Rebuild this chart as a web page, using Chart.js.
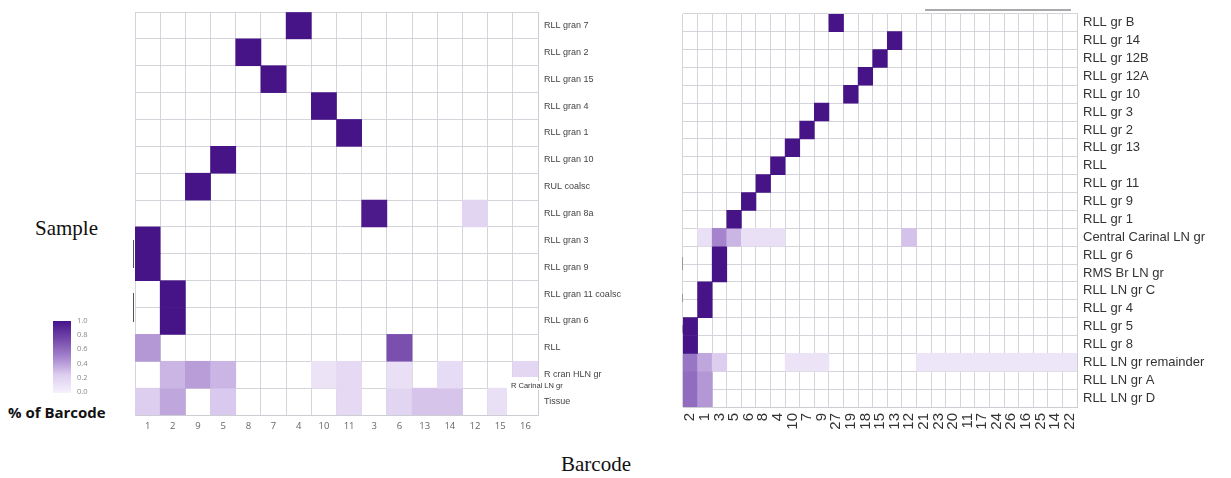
<!DOCTYPE html>
<html>
<head>
<meta charset="utf-8">
<script src="https://cdn.jsdelivr.net/npm/chart.js@4.4.1/dist/chart.umd.min.js"></script>
<style>
  body { margin: 0; background: #fff; width: 1231px; height: 478px; position: relative; overflow: hidden; }
  canvas { position: absolute; }
  .serif { position: absolute; font-family: "Liberation Serif", "DejaVu Serif", serif; font-size: 21px; color: #111; }
  #legendTitle { position: absolute; left: 8px; top: 402px; font-family: "Open Sans", sans-serif; font-weight: bold; font-size: 15px; color: #111; }
  #colorbar { position: absolute; left: 53px; top: 321px; width: 18px; height: 72px;
    background: linear-gradient(to bottom, #46148a, #7448aa, #a584cd, #ddcef0, #f6f1fc); }
  .cbTick { position: absolute; left: 77px; font-family: "Open Sans", sans-serif; font-size: 7.5px; color: #888; }
  #carinal { position: absolute; left: 507px; top: 377px; width: 31px; height: 38px; background: #fff; }
  #carinalText { position: absolute; left: 511px; top: 381px; font-family: "Liberation Sans", sans-serif; font-size: 7.5px; color: #333; background: #fff; white-space: nowrap; }
  .mark { position: absolute; width: 1px; background: #555; }
  #topRule { position: absolute; left: 925px; top: 9px; width: 146px; height: 2px; background: #aaa; }
</style>
</head>
<body>
<canvas id="leftMap" width="525" height="440" style="left:125px;top:0"></canvas>
<canvas id="rightMap" width="556" height="460" style="left:675px;top:0"></canvas>

<div class="serif" style="left:35px;top:216px">Sample</div>
<div class="serif" style="left:561px;top:452px">Barcode</div>
<div id="colorbar"></div>
<div id="legendTitle">% of Barcode</div>
<div id="carinal"></div>
<div id="carinalText">R Carinal LN gr</div>
<div id="topRule"></div>
<!-- leftover dendrogram stubs beside the row axes -->
<div class="mark" style="left:133px;top:240px;height:28px"></div>
<div class="mark" style="left:133px;top:293px;height:29px"></div>
<div class="mark" style="left:682px;top:257px;height:13px;background:#999"></div>
<div class="mark" style="left:682px;top:294px;height:8px;background:#999"></div>
<div class="mark" style="left:682px;top:325px;height:8px;background:#999"></div>

<script>
// left panel: barcodes (columns) and samples (rows)
const leftCols = ['1', '2', '9', '5', '8', '7', '4', '10', '11', '3', '6', '13', '14', '12', '15', '16'];
const leftRows = ['RLL gran 7', 'RLL gran 2', 'RLL gran 15', 'RLL gran 4', 'RLL gran 1', 'RLL gran 10',
  'RUL coalsc', 'RLL gran 8a', 'RLL gran 3', 'RLL gran 9', 'RLL gran 11 coalsc', 'RLL gran 6',
  'RLL', 'R cran HLN gr', 'Tissue'];
const leftValues = [
  [0, 0, 0, 0, 0, 0, 1, 0, 0, 0, 0, 0, 0, 0, 0, 0],
  [0, 0, 0, 0, 1, 0, 0, 0, 0, 0, 0, 0, 0, 0, 0, 0],
  [0, 0, 0, 0, 0, 1, 0, 0, 0, 0, 0, 0, 0, 0, 0, 0],
  [0, 0, 0, 0, 0, 0, 0, 1, 0, 0, 0, 0, 0, 0, 0, 0],
  [0, 0, 0, 0, 0, 0, 0, 0, 1, 0, 0, 0, 0, 0, 0, 0],
  [0, 0, 0, 1, 0, 0, 0, 0, 0, 0, 0, 0, 0, 0, 0, 0],
  [0, 0, 1, 0, 0, 0, 0, 0, 0, 0, 0, 0, 0, 0, 0, 0],
  [0, 0, 0, 0, 0, 0, 0, 0, 0, 0.97, 0, 0, 0, 0.16, 0, 0],
  [1, 0, 0, 0, 0, 0, 0, 0, 0, 0, 0, 0, 0, 0, 0, 0],
  [1, 0, 0, 0, 0, 0, 0, 0, 0, 0, 0, 0, 0, 0, 0, 0],
  [0, 1, 0, 0, 0, 0, 0, 0, 0, 0, 0, 0, 0, 0, 0, 0],
  [0, 1, 0, 0, 0, 0, 0, 0, 0, 0, 0, 0, 0, 0, 0, 0],
  [0.42, 0, 0, 0, 0, 0, 0, 0, 0, 0, 0.72, 0, 0, 0, 0, 0],
  [0, 0.3, 0.4, 0.3, 0, 0, 0, 0.08, 0.14, 0, 0.1, 0, 0.12, 0, 0, 0.15],
  [0.2, 0.36, 0, 0.22, 0, 0, 0, 0, 0.14, 0, 0.16, 0.24, 0.24, 0, 0.1, 0]
];

// right panel
const rightCols = ['2', '1', '3', '5', '6', '8', '4', '10', '7', '9', '27', '19', '18', '15', '13',
  '12', '21', '23', '20', '11', '17', '24', '26', '16', '25', '14', '22'];
const rightRows = ['RLL gr B', 'RLL gr 14', 'RLL gr 12B', 'RLL gr 12A', 'RLL gr 10', 'RLL gr 3',
  'RLL gr 2', 'RLL gr 13', 'RLL', 'RLL gr 11', 'RLL gr 9', 'RLL gr 1', 'Central Carinal LN gr',
  'RLL gr 6', 'RMS Br LN gr', 'RLL LN gr C', 'RLL gr 4', 'RLL gr 5', 'RLL gr 8',
  'RLL LN gr remainder', 'RLL LN gr A', 'RLL LN gr D'];
const rightValues = [
  [0, 0, 0, 0, 0, 0, 0, 0, 0, 0, 1, 0, 0, 0, 0, 0, 0, 0, 0, 0, 0, 0, 0, 0, 0, 0, 0],
  [0, 0, 0, 0, 0, 0, 0, 0, 0, 0, 0, 0, 0, 0, 1, 0, 0, 0, 0, 0, 0, 0, 0, 0, 0, 0, 0],
  [0, 0, 0, 0, 0, 0, 0, 0, 0, 0, 0, 0, 0, 1, 0, 0, 0, 0, 0, 0, 0, 0, 0, 0, 0, 0, 0],
  [0, 0, 0, 0, 0, 0, 0, 0, 0, 0, 0, 0, 1, 0, 0, 0, 0, 0, 0, 0, 0, 0, 0, 0, 0, 0, 0],
  [0, 0, 0, 0, 0, 0, 0, 0, 0, 0, 0, 1, 0, 0, 0, 0, 0, 0, 0, 0, 0, 0, 0, 0, 0, 0, 0],
  [0, 0, 0, 0, 0, 0, 0, 0, 0, 1, 0, 0, 0, 0, 0, 0, 0, 0, 0, 0, 0, 0, 0, 0, 0, 0, 0],
  [0, 0, 0, 0, 0, 0, 0, 0, 1, 0, 0, 0, 0, 0, 0, 0, 0, 0, 0, 0, 0, 0, 0, 0, 0, 0, 0],
  [0, 0, 0, 0, 0, 0, 0, 1, 0, 0, 0, 0, 0, 0, 0, 0, 0, 0, 0, 0, 0, 0, 0, 0, 0, 0, 0],
  [0, 0, 0, 0, 0, 0, 1, 0, 0, 0, 0, 0, 0, 0, 0, 0, 0, 0, 0, 0, 0, 0, 0, 0, 0, 0, 0],
  [0, 0, 0, 0, 0, 1, 0, 0, 0, 0, 0, 0, 0, 0, 0, 0, 0, 0, 0, 0, 0, 0, 0, 0, 0, 0, 0],
  [0, 0, 0, 0, 1, 0, 0, 0, 0, 0, 0, 0, 0, 0, 0, 0, 0, 0, 0, 0, 0, 0, 0, 0, 0, 0, 0],
  [0, 0, 0, 1, 0, 0, 0, 0, 0, 0, 0, 0, 0, 0, 0, 0, 0, 0, 0, 0, 0, 0, 0, 0, 0, 0, 0],
  [0, 0.1, 0.5, 0.3, 0.1, 0.1, 0.1, 0, 0, 0, 0, 0, 0, 0, 0, 0.25, 0, 0, 0, 0, 0, 0, 0, 0, 0, 0, 0],
  [0, 0, 1, 0, 0, 0, 0, 0, 0, 0, 0, 0, 0, 0, 0, 0, 0, 0, 0, 0, 0, 0, 0, 0, 0, 0, 0],
  [0, 0, 1, 0, 0, 0, 0, 0, 0, 0, 0, 0, 0, 0, 0, 0, 0, 0, 0, 0, 0, 0, 0, 0, 0, 0, 0],
  [0, 1, 0, 0, 0, 0, 0, 0, 0, 0, 0, 0, 0, 0, 0, 0, 0, 0, 0, 0, 0, 0, 0, 0, 0, 0, 0],
  [0, 1, 0, 0, 0, 0, 0, 0, 0, 0, 0, 0, 0, 0, 0, 0, 0, 0, 0, 0, 0, 0, 0, 0, 0, 0, 0],
  [1, 0, 0, 0, 0, 0, 0, 0, 0, 0, 0, 0, 0, 0, 0, 0, 0, 0, 0, 0, 0, 0, 0, 0, 0, 0, 0],
  [1, 0, 0, 0, 0, 0, 0, 0, 0, 0, 0, 0, 0, 0, 0, 0, 0, 0, 0, 0, 0, 0, 0, 0, 0, 0, 0],
  [0.56, 0.36, 0.2, 0, 0, 0, 0, 0.08, 0.08, 0.08, 0, 0, 0, 0, 0, 0, 0.07, 0.07, 0.07, 0.07, 0.07, 0.07, 0.07, 0.07, 0.07, 0.07, 0.07],
  [0.6, 0.42, 0, 0, 0, 0, 0, 0, 0, 0, 0, 0, 0, 0, 0, 0, 0, 0, 0, 0, 0, 0, 0, 0, 0, 0, 0],
  [0.6, 0.42, 0, 0, 0, 0, 0, 0, 0, 0, 0, 0, 0, 0, 0, 0, 0, 0, 0, 0, 0, 0, 0, 0, 0, 0, 0]
];

const cbTicks = ['1.0', '0.8', '0.6', '0.4', '0.2', '0.0'];

// colour bar tick labels
cbTicks.forEach((t, i) => {
  const d = document.createElement('div');
  d.className = 'cbTick';
  d.style.top = (315 + i * 14.2) + 'px';
  d.textContent = t;
  document.body.appendChild(d);
});

// purple ramp, light lavender -> dark purple
const stops = [
  [0.0, [246, 241, 252]],
  [0.2, [221, 206, 240]],
  [0.5, [165, 132, 205]],
  [0.75, [116, 72, 170]],
  [1.0, [70, 20, 134]]
];
function purple(v) {
  for (let i = 1; i < stops.length; i++) {
    if (v <= stops[i][0]) {
      const [a, ca] = stops[i - 1], [b, cb] = stops[i];
      const t = (v - a) / (b - a);
      const c = ca.map((x, k) => Math.round(x + (cb[k] - x) * t));
      return `rgb(${c[0]},${c[1]},${c[2]})`;
    }
  }
  return 'rgb(70,20,134)';
}

function heatmap(id, cols, rows, values, o) {
  // one floating-bar dataset per row, spanning [row, row + 1] on the y scale
  const datasets = rows.map((r, ri) => ({
    label: r,
    data: values[ri].map(v => v > 0 ? [ri, ri + 1] : null),
    backgroundColor: values[ri].map(v => purple(v)),
    borderWidth: 0,
    grouped: false,
    barPercentage: 1,
    categoryPercentage: 1
  }));
  const gridColor = 'rgba(205,205,212,0.85)';
  new Chart(document.getElementById(id), {
    type: 'bar',
    data: { labels: cols, datasets },
    options: {
      responsive: false,
      animation: false,
      layout: { padding: { left: o.padLeft, top: 12, right: 0, bottom: 0 } },
      plugins: { legend: { display: false }, tooltip: { enabled: false } },
      scales: {
        x: {
          z: 1,
          grid: { color: gridColor, drawTicks: false, offset: true },
          border: { color: gridColor },
          ticks: {
            color: o.xColor, font: { family: o.xFont, size: o.xSize },
            padding: o.xPad, autoSkip: false,
            minRotation: o.rotate, maxRotation: o.rotate
          },
          afterFit: s => { s.height = o.xHeight; }
        },
        y: {
          type: 'linear',
          position: 'right',
          reverse: true,
          min: 0,
          max: rows.length,
          z: 1,
          grid: { color: gridColor, drawTicks: false },
          border: { color: gridColor },
          afterBuildTicks: s => { s.ticks = Array.from({ length: rows.length + 1 }, (_, i) => ({ value: i })); },
          ticks: {
            autoSkip: false,
            color: o.yColor,
            font: { family: o.yFont, size: o.ySize },
            padding: o.yPad,
            labelOffset: o.rowH / 2,
            callback: (v, i) => rows[i] ?? ''
          },
          afterFit: s => { s.width = o.yWidth; }
        }
      }
    }
  });
}

heatmap('leftMap', leftCols, leftRows, leftValues, {
  padLeft: 10, xHeight: 25, yWidth: 112, rowH: 403 / 15,
  xFont: '"Open Sans", sans-serif', yFont: '"Liberation Sans", sans-serif',
  xSize: 9.5, ySize: 9, xColor: '#666', yColor: '#444',
  xPad: 6, yPad: 6, rotate: 0
});

heatmap('rightMap', rightCols, rightRows, rightValues, {
  padLeft: 8, xHeight: 53, yWidth: 154, rowH: 395 / 22,
  xFont: '"Liberation Sans", Arial, sans-serif', yFont: '"Liberation Sans", Arial, sans-serif',
  xSize: 15, ySize: 13, xColor: '#333', yColor: '#333',
  xPad: 6, yPad: 6, rotate: 90
});
</script>
</body>
</html>
